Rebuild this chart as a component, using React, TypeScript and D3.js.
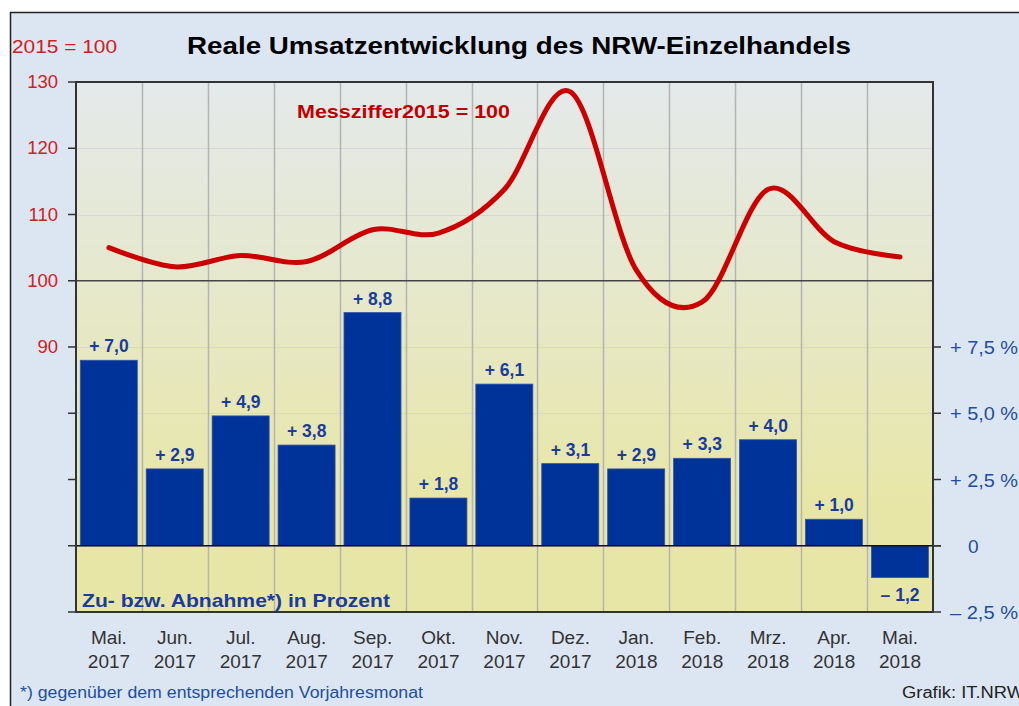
import React, { useEffect, useRef } from 'react';
import * as d3 from 'd3';

// Monate (zweizeilige Achsenbeschriftung)
const months = ['Mai.', 'Jun.', 'Jul.', 'Aug.', 'Sep.', 'Okt.', 'Nov.', 'Dez.', 'Jan.', 'Feb.', 'Mrz.', 'Apr.', 'Mai.'];
const years = ['2017', '2017', '2017', '2017', '2017', '2017', '2017', '2017', '2018', '2018', '2018', '2018', '2018'];

// Veränderung gegenüber Vorjahresmonat in %
const changePct = [7.0, 2.9, 4.9, 3.8, 8.8, 1.8, 6.1, 3.1, 2.9, 3.3, 4.0, 1.0, -1.2];

// Messziffer 2015 = 100
const indexValues = [105.0, 102.1, 103.8, 102.9, 107.7, 107.2, 113.8, 128.5, 101.6, 96.8, 113.8, 105.9, 103.6];

const leftTicks = [50, 60, 70, 80, 90, 100, 110, 120, 130];
const leftTickLabels = ['', '', '', '', '90', '100', '110', '120', '130'];
const rightTicks = [-2.5, 0, 2.5, 5.0, 7.5];
const rightTickLabels = ['\u2013 2,5 %', '0', '+ 2,5 %', '+ 5,0 %', '+ 7,5 %'];

const W = 1019;
const H = 706;
const FONT = '"Liberation Sans", Arial, sans-serif';

const fmtChange = (v: number) =>
  (v < 0 ? '\u2013 ' : '+ ') + Math.abs(v).toFixed(1).replace('.', ',');

const App: React.FC = () => {
  const svgRef = useRef<SVGSVGElement>(null);

  useEffect(() => {
    if (!svgRef.current) return;
    const svg = d3.select(svgRef.current);
    svg.selectAll('*').remove();

    const plot = { left: 76, right: 933, top: 82, bottom: 612 };
    const keys = months.map((m, i) => `${m}${years[i]}`);

    const x = d3.scaleBand<string>()
      .domain(keys)
      .range([plot.left, plot.right])
      .padding(0);

    const yLeft = d3.scaleLinear().domain([50, 130]).range([plot.bottom, plot.top]);
    const yRight = d3.scaleLinear().domain([-2.5, 17.5]).range([plot.bottom, plot.top]);

    // Hintergrund + Rahmen
    svg.append('rect').attr('width', W).attr('height', H).attr('fill', '#ffffff');
    svg.append('rect')
      .attr('x', 10.5).attr('y', 12.5)
      .attr('width', W + 20).attr('height', H + 20)
      .attr('fill', '#dce6f2')
      .attr('stroke', '#222')
      .attr('stroke-width', 1.5);

    const defs = svg.append('defs');
    const grad = defs.append('linearGradient')
      .attr('id', 'plotBg')
      .attr('x1', 0).attr('y1', 0).attr('x2', 0).attr('y2', 1);
    grad.append('stop').attr('offset', '0%').attr('stop-color', '#e4e9eb');
    grad.append('stop').attr('offset', '45%').attr('stop-color', '#e6e8c6');
    grad.append('stop').attr('offset', '80%').attr('stop-color', '#e8e6a6');
    grad.append('stop').attr('offset', '100%').attr('stop-color', '#e8e6a6');

    svg.append('rect')
      .attr('x', plot.left).attr('y', plot.top)
      .attr('width', plot.right - plot.left)
      .attr('height', plot.bottom - plot.top)
      .attr('fill', 'url(#plotBg)');

    // Horizontale Gitterlinien
    svg.append('g')
      .selectAll('line')
      .data(leftTicks.filter(t => t !== 50 && t !== 130 && t !== 100 && t !== 70))
      .enter()
      .append('line')
      .attr('x1', plot.left).attr('x2', plot.right)
      .attr('y1', d => Math.round(yLeft(d)) + 0.5)
      .attr('y2', d => Math.round(yLeft(d)) + 0.5)
      .attr('stroke', '#d6d6d6')
      .attr('stroke-width', 1);

    // Vertikale Gitterlinien
    svg.append('g')
      .selectAll('line')
      .data(keys.slice(1))
      .enter()
      .append('line')
      .attr('x1', d => Math.round(x(d) || 0) + 0.5)
      .attr('x2', d => Math.round(x(d) || 0) + 0.5)
      .attr('y1', plot.top).attr('y2', plot.bottom)
      .attr('stroke', '#b4b4b4')
      .attr('stroke-width', 1.5);

    // Linie bei 100
    svg.append('line')
      .attr('x1', plot.left).attr('x2', plot.right)
      .attr('y1', yLeft(100)).attr('y2', yLeft(100))
      .attr('stroke', '#444')
      .attr('stroke-width', 1.5);

    // Balken
    const bw = x.bandwidth();
    svg.append('g')
      .selectAll('rect')
      .data(changePct)
      .enter()
      .append('rect')
      .attr('x', (_d, i) => (x(keys[i]) || 0) + bw * 0.065)
      .attr('width', bw * 0.865)
      .attr('y', d => yRight(Math.max(0, d)))
      .attr('height', d => Math.abs(yRight(d) - yRight(0)))
      .attr('fill', '#003399')
      .attr('stroke', '#3355aa')
      .attr('stroke-width', 0.8);

    // Balkenbeschriftung
    svg.append('g')
      .selectAll('text')
      .data(changePct)
      .enter()
      .append('text')
      .attr('x', (_d, i) => (x(keys[i]) || 0) + bw / 2)
      .attr('y', d => d >= 0 ? yRight(d) - 8 : yRight(d) + 23)
      .attr('text-anchor', 'middle')
      .attr('font-family', FONT)
      .attr('font-size', 17.5)
      .attr('font-weight', 'bold')
      .attr('fill', '#1a3c9c')
      .text(d => fmtChange(d));

    // Nulllinie
    svg.append('line')
      .attr('x1', plot.left).attr('x2', plot.right + 8)
      .attr('y1', yRight(0)).attr('y2', yRight(0))
      .attr('stroke', '#111')
      .attr('stroke-width', 1.5);

    // Indexkurve
    const line = d3.line<number>()
      .x((_d, i) => (x(keys[i]) || 0) + bw / 2)
      .y(d => yLeft(d))
      .curve(d3.curveCardinal.tension(0));

    svg.append('path')
      .datum(indexValues)
      .attr('d', line)
      .attr('fill', 'none')
      .attr('stroke', '#cc0000')
      .attr('stroke-width', 5)
      .attr('stroke-linecap', 'round')
      .attr('stroke-linejoin', 'round');

    // Rahmen des Plotbereichs
    svg.append('rect')
      .attr('x', plot.left).attr('y', plot.top)
      .attr('width', plot.right - plot.left)
      .attr('height', plot.bottom - plot.top)
      .attr('fill', 'none')
      .attr('stroke', '#333')
      .attr('stroke-width', 2);

    // Linke Achse
    const leftAxis = svg.append('g');
    leftAxis.selectAll('line')
      .data(leftTicks)
      .enter()
      .append('line')
      .attr('x1', plot.left - 8).attr('x2', plot.left)
      .attr('y1', d => yLeft(d)).attr('y2', d => yLeft(d))
      .attr('stroke', '#333')
      .attr('stroke-width', 1.5);
    leftAxis.selectAll('text')
      .data(leftTicks)
      .enter()
      .append('text')
      .attr('x', plot.left - 18)
      .attr('y', d => yLeft(d) + 6)
      .attr('text-anchor', 'end')
      .attr('font-family', FONT)
      .attr('font-size', 18.5)
      .attr('fill', '#cc2222')
      .text((_d, i) => leftTickLabels[i]);

    // Rechte Achse
    const rightAxis = svg.append('g');
    rightAxis.selectAll('line')
      .data(rightTicks)
      .enter()
      .append('line')
      .attr('x1', plot.right).attr('x2', plot.right + 8)
      .attr('y1', d => yRight(d)).attr('y2', d => yRight(d))
      .attr('stroke', '#333')
      .attr('stroke-width', 1.5);
    rightAxis.selectAll('text')
      .data(rightTicks)
      .enter()
      .append('text')
      .attr('x', d => d === 0 ? 968 : 950)
      .attr('y', d => yRight(d) + 7)
      .attr('font-family', FONT)
      .attr('font-size', 19)
      .attr('fill', '#1f4ea0')
      .attr('textLength', d => d === 0 ? null : 68)
      .attr('lengthAdjust', 'spacingAndGlyphs')
      .text((_d, i) => rightTickLabels[i]);

    // X-Achse
    const xLab = svg.append('g');
    keys.forEach((k, i) => {
      const cx = (x(k) || 0) + bw / 2;
      xLab.append('text')
        .attr('x', cx).attr('y', 644)
        .attr('text-anchor', 'middle')
        .attr('font-family', FONT)
        .attr('font-size', 19)
        .attr('fill', '#333')
        .text(months[i]);
      xLab.append('text')
        .attr('x', cx).attr('y', 668)
        .attr('text-anchor', 'middle')
        .attr('font-family', FONT)
        .attr('font-size', 19)
        .attr('fill', '#333')
        .text(years[i]);
    });

    // Texte
    svg.append('text')
      .attr('x', 12).attr('y', 53)
      .attr('font-family', FONT)
      .attr('font-size', 19)
      .attr('fill', '#cc2222')
      .attr('textLength', 105)
      .attr('lengthAdjust', 'spacingAndGlyphs')
      .text('2015 = 100');

    svg.append('text')
      .attr('x', 519).attr('y', 54)
      .attr('text-anchor', 'middle')
      .attr('font-family', FONT)
      .attr('font-size', 24)
      .attr('font-weight', 'bold')
      .attr('fill', '#000')
      .attr('textLength', 664)
      .attr('lengthAdjust', 'spacingAndGlyphs')
      .text('Reale Umsatzentwicklung des NRW-Einzelhandels');

    svg.append('text')
      .attr('x', 297).attr('y', 118)
      .attr('font-family', FONT)
      .attr('font-size', 19)
      .attr('font-weight', 'bold')
      .attr('fill', '#c00000')
      .attr('textLength', 213)
      .attr('lengthAdjust', 'spacingAndGlyphs')
      .text('Messziffer2015 = 100');

    svg.append('text')
      .attr('x', 82).attr('y', 607)
      .attr('font-family', FONT)
      .attr('font-size', 19)
      .attr('font-weight', 'bold')
      .attr('fill', '#1a3c9c')
      .attr('textLength', 308)
      .attr('lengthAdjust', 'spacingAndGlyphs')
      .text('Zu- bzw. Abnahme*) in Prozent');

    svg.append('text')
      .attr('x', 20).attr('y', 698)
      .attr('font-family', FONT)
      .attr('font-size', 16)
      .attr('fill', '#1f4ea0')
      .attr('textLength', 403)
      .attr('lengthAdjust', 'spacingAndGlyphs')
      .text('*) gegenüber dem entsprechenden Vorjahresmonat');

    svg.append('text')
      .attr('x', 902).attr('y', 698)
      .attr('font-family', FONT)
      .attr('font-size', 16)
      .attr('fill', '#222')
      .attr('textLength', 122)
      .attr('lengthAdjust', 'spacingAndGlyphs')
      .text('Grafik: IT.NRW');
  }, []);

  return (
    <svg
      ref={svgRef}
      width={W}
      height={H}
      style={{ position: 'absolute', left: 0, top: 0, display: 'block' }}
    />
  );
};

export default App;
